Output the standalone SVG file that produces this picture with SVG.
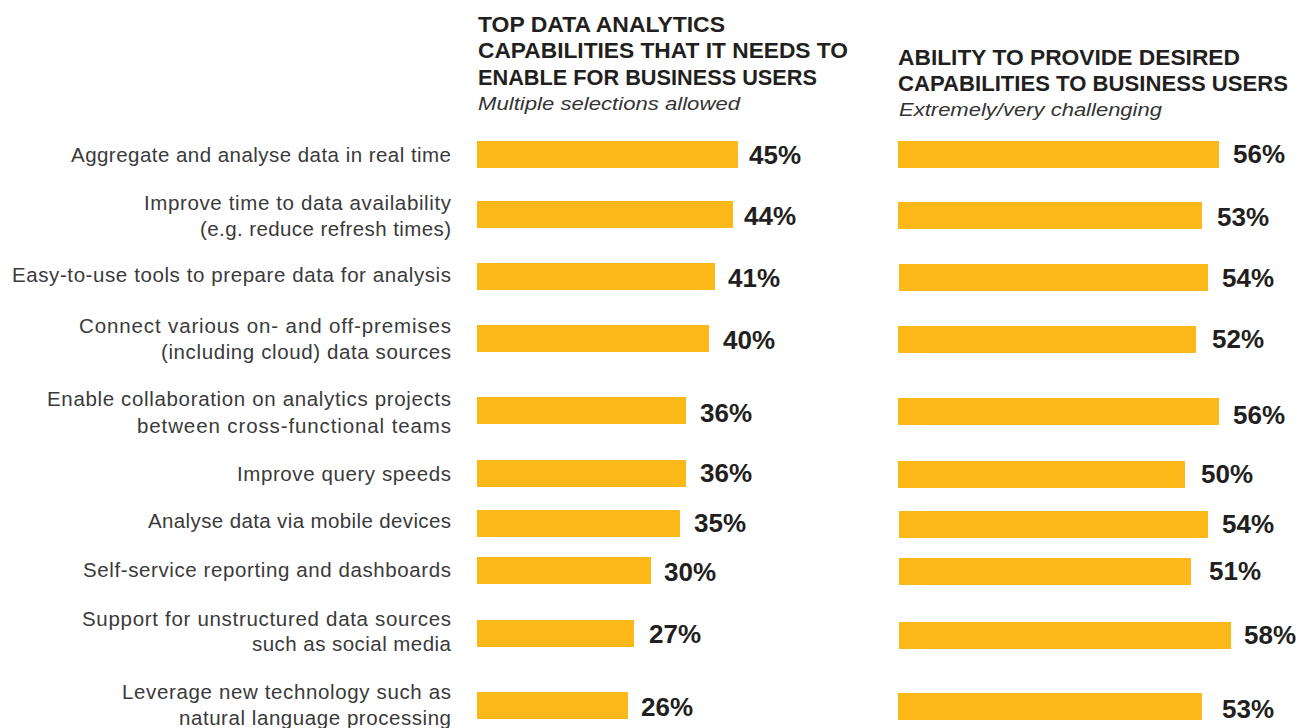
<svg xmlns="http://www.w3.org/2000/svg" width="1303" height="728" viewBox="0 0 1303 728">
<style>
.bg{fill:#ffffff}
.bar{fill:#FBB818}
.ttl{font-family:"Liberation Sans",Arial,sans-serif;font-weight:bold;font-size:22px;fill:#231f20}
.sub{font-family:"Liberation Sans",Arial,sans-serif;font-style:italic;font-size:18px;fill:#333333}
.cat{font-family:"Liberation Sans",Arial,sans-serif;font-size:20.5px;fill:#3a3a3a;text-anchor:end}
.val{font-family:"Liberation Sans",Arial,sans-serif;font-weight:bold;font-size:26px;fill:#231f20}
</style>
<rect class="bg" x="0" y="0" width="1303" height="728"/>
<g id="header-left">
<text class="ttl" x="478" y="31.5" textLength="247" lengthAdjust="spacingAndGlyphs">TOP DATA ANALYTICS</text>
<text class="ttl" x="478" y="57.5" textLength="370" lengthAdjust="spacingAndGlyphs">CAPABILITIES THAT IT NEEDS TO</text>
<text class="ttl" x="478" y="84.5" textLength="339" lengthAdjust="spacingAndGlyphs">ENABLE FOR BUSINESS USERS</text>
<text class="sub" x="478" y="110" textLength="262" lengthAdjust="spacingAndGlyphs">Multiple selections allowed</text>
</g>
<g id="header-right">
<text class="ttl" x="898" y="65" textLength="342" lengthAdjust="spacingAndGlyphs">ABILITY TO PROVIDE DESIRED</text>
<text class="ttl" x="898" y="91" textLength="390" lengthAdjust="spacingAndGlyphs">CAPABILITIES TO BUSINESS USERS</text>
<text class="sub" x="899" y="116" textLength="263" lengthAdjust="spacingAndGlyphs">Extremely/very challenging</text>
</g>
<g id="row1">
<text class="cat" x="451" y="162" textLength="380">Aggregate and analyse data in real time</text>
<rect class="bar" x="477" y="141" width="261" height="27"/>
<text class="val" x="749" y="164">45%</text>
<rect class="bar" x="898" y="141" width="321" height="27"/>
<text class="val" x="1233" y="163">56%</text>
</g>
<g id="row2">
<text class="cat" x="451" y="210" textLength="307">Improve time to data availability</text>
<text class="cat" x="451" y="236" textLength="251">(e.g. reduce refresh times)</text>
<rect class="bar" x="477" y="201" width="256" height="27"/>
<text class="val" x="744" y="225">44%</text>
<rect class="bar" x="898" y="202" width="304" height="27"/>
<text class="val" x="1217" y="226">53%</text>
</g>
<g id="row3">
<text class="cat" x="451" y="282" textLength="439">Easy-to-use tools to prepare data for analysis</text>
<rect class="bar" x="477" y="263" width="238" height="27"/>
<text class="val" x="728" y="287">41%</text>
<rect class="bar" x="899" y="264" width="309" height="27"/>
<text class="val" x="1222" y="287">54%</text>
</g>
<g id="row4">
<text class="cat" x="451" y="333" textLength="372">Connect various on- and off-premises</text>
<text class="cat" x="451" y="359" textLength="290">(including cloud) data sources</text>
<rect class="bar" x="477" y="325" width="232" height="27"/>
<text class="val" x="723" y="349">40%</text>
<rect class="bar" x="898" y="326" width="298" height="27"/>
<text class="val" x="1212" y="348">52%</text>
</g>
<g id="row5">
<text class="cat" x="451" y="406" textLength="404">Enable collaboration on analytics projects</text>
<text class="cat" x="451" y="433" textLength="314">between cross-functional teams</text>
<rect class="bar" x="477" y="397" width="209" height="27"/>
<text class="val" x="700" y="422">36%</text>
<rect class="bar" x="898" y="398" width="321" height="27"/>
<text class="val" x="1233" y="424">56%</text>
</g>
<g id="row6">
<text class="cat" x="451" y="481" textLength="214">Improve query speeds</text>
<rect class="bar" x="477" y="460" width="209" height="27"/>
<text class="val" x="700" y="482">36%</text>
<rect class="bar" x="898" y="461" width="287" height="27"/>
<text class="val" x="1201" y="483">50%</text>
</g>
<g id="row7">
<text class="cat" x="451" y="528" textLength="303">Analyse data via mobile devices</text>
<rect class="bar" x="477" y="510" width="203" height="27"/>
<text class="val" x="694" y="532">35%</text>
<rect class="bar" x="899" y="511" width="309" height="27"/>
<text class="val" x="1222" y="533">54%</text>
</g>
<g id="row8">
<text class="cat" x="451" y="577" textLength="368">Self-service reporting and dashboards</text>
<rect class="bar" x="477" y="557" width="174" height="27"/>
<text class="val" x="664" y="581">30%</text>
<rect class="bar" x="899" y="558" width="292" height="27"/>
<text class="val" x="1209" y="580">51%</text>
</g>
<g id="row9">
<text class="cat" x="451" y="626" textLength="369">Support for unstructured data sources</text>
<text class="cat" x="451" y="651" textLength="199">such as social media</text>
<rect class="bar" x="477" y="620" width="157" height="27"/>
<text class="val" x="649" y="643">27%</text>
<rect class="bar" x="899" y="622" width="332" height="27"/>
<text class="val" x="1244" y="644">58%</text>
</g>
<g id="row10">
<text class="cat" x="451" y="699" textLength="329">Leverage new technology such as</text>
<text class="cat" x="451" y="725" textLength="272">natural language processing</text>
<rect class="bar" x="477" y="692" width="151" height="27"/>
<text class="val" x="641" y="716">26%</text>
<rect class="bar" x="898" y="693" width="304" height="27"/>
<text class="val" x="1222" y="718">53%</text>
</g>
</svg>
